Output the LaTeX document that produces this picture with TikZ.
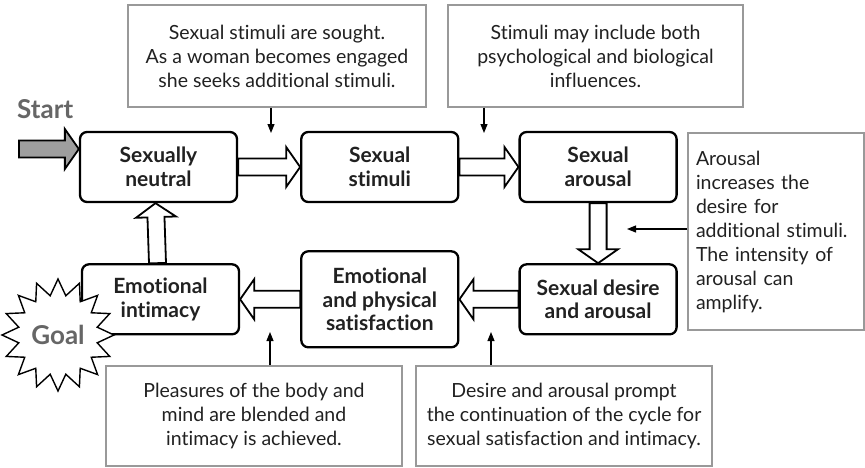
\documentclass[tikz,border=0pt]{standalone}
\usepackage{fontspec}
\setmainfont{Lato}[Ligatures=NoCommon]
\usetikzlibrary{arrows.meta, positioning, shapes.geometric, calc}

\definecolor{ink}{gray}{0.13}
\definecolor{notegray}{gray}{0.6}
\definecolor{labelgray}{gray}{0.4}
\definecolor{startfill}{gray}{0.62}

\newcommand{\stagefont}{\fontsize{21}{23.5}\selectfont\bfseries}
\newcommand{\notetextfont}{\fontsize{19.5}{24}\selectfont}
\newcommand{\bigtagfont}{\fontsize{26}{28}\selectfont\bfseries}

\begin{document}
\begin{tikzpicture}[x=1pt, y=-1pt,
  stage/.style={draw, line width=2.3pt, rounded corners=7pt, fill=white, align=center,
                minimum width=157pt, minimum height=70pt, inner sep=2pt, font=\stagefont, text=ink},
  note/.style={draw=notegray, line width=1.6pt, fill=white, align=center, inner sep=0pt,
               font=\notetextfont, text=ink},
  pointer/.style={line width=1.1pt, -{Triangle[length=9pt, width=7pt]}},
  fat/.style={draw=black, line width=1.8pt, fill=white, line join=miter,
    to path={($(\tikztostart)!8.5pt!90:(\tikztotarget)$)
      -- ($(\tikztotarget)!14pt!(\tikztostart)!8.5pt!90:(\tikztotarget)$)
      -- ($(\tikztotarget)!14pt!(\tikztostart)!20pt!90:(\tikztotarget)$)
      -- (\tikztotarget)
      -- ($(\tikztotarget)!14pt!(\tikztostart)!20pt!-90:(\tikztotarget)$)
      -- ($(\tikztotarget)!14pt!(\tikztostart)!8.5pt!-90:(\tikztotarget)$)
      -- ($(\tikztostart)!8.5pt!-90:(\tikztotarget)$) -- cycle}},
]
  \useasboundingbox (0,0) rectangle (865,467);

  % the six stages of the cycle
  \node[stage] (neutral) at (158.5,167) {Sexually\\neutral};
  \node[stage, right=62pt of neutral] (stimuli) {Sexual\\stimuli};
  \node[stage, right=59pt of stimuli] (arousal) {Sexual\\arousal};
  \node[stage, below=60pt of arousal] (desire) {Sexual desire\\and arousal};
  \node[stage, minimum height=96pt, left=59pt of desire] (satisf) {Emotional\\and physical\\satisfaction};
  \node[stage, left=60pt of satisf] (intimacy) {Emotional\\intimacy};

  % hollow arrows round the cycle
  \draw[fat] (neutral.east) to (stimuli.west);
  \draw[fat] (stimuli.east) to (arousal.west);
  \draw[fat] (arousal.south) to (desire.north);
  \draw[fat] (desire.west) to (satisf.east);
  \draw[fat] (satisf.west) to (intimacy.east);
  \draw[fat] ([xshift=-3pt]intimacy.north) to ([xshift=-3pt]neutral.south);

  % entry point
  \coordinate (entry) at (19,149);
  \draw[fat, fill=startfill] (entry) to ([yshift=18pt]neutral.west);
  \node[font=\bigtagfont, text=labelgray, anchor=base west, inner sep=0pt] (start) at (17,118) {Start};

  % goal burst over the corner of the last stage
  \node[star, star points=16, star point ratio=1.4, minimum size=112pt, inner sep=0pt,
        draw, line width=1.4pt, fill=white, font=\bigtagfont, text=labelgray] (goal) at (58,335) {Goal};

  % side notes
  \node[note, minimum width=298pt, minimum height=102pt] (sought) at (277,56)
    {Sexual stimuli are sought.\\As a woman becomes engaged\\she seeks additional stimuli.};
  \node[note, minimum width=295pt, minimum height=102pt] (influence) at (595.5,56)
    {Stimuli may include both\\psychological and biological\\influences.};
  \node[note, minimum width=176pt, minimum height=197pt, text width=160pt, align=left] (amplify) at (776,231.5)
    {Arousal\\increases the\\desire for\\additional stimuli.\\The intensity of\\arousal can\\amplify.};
  \node[note, minimum width=296pt, minimum height=100pt] (blended) at (254,416)
    {Pleasures of the body and\\mind are blended and\\intimacy is achieved.};
  \node[note, minimum width=296pt, minimum height=100pt] (prompt) at (564,416)
    {Desire and arousal prompt\\the continuation of the cycle for\\sexual satisfaction and intimacy.};

  % pointers from the notes
  \coordinate (soughtTip) at (271,133);
  \coordinate (influenceTip) at (484,133);
  \coordinate (amplifyTip) at (627,229);
  \coordinate (blendedTip) at (270,332);
  \coordinate (promptTip) at (491,332);
  \draw[pointer] (sought.south -| soughtTip) -- (soughtTip);
  \draw[pointer] (influence.south -| influenceTip) -- (influenceTip);
  \draw[pointer] (amplify.west |- amplifyTip) -- (amplifyTip);
  \draw[pointer] (blended.north -| blendedTip) -- (blendedTip);
  \draw[pointer] (prompt.north -| promptTip) -- (promptTip);
\end{tikzpicture}
\end{document}
